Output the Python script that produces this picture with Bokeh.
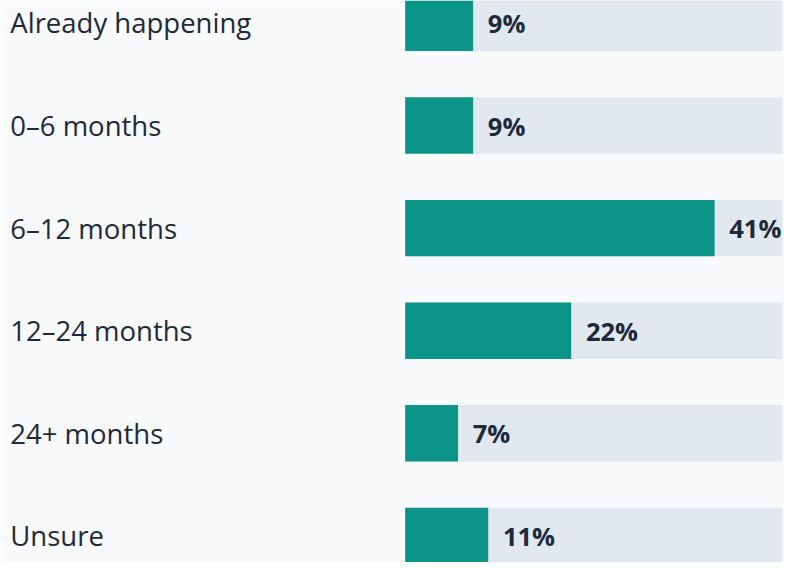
from bokeh.plotting import figure
from bokeh.models import ColumnDataSource, Range1d
from bokeh.core.properties import value
from bokeh.embed import file_html
from bokeh.resources import INLINE

categories = ["Already happening", "0–6 months", "6–12 months", "12–24 months", "24+ months", "Unsure"]
percent = [9, 9, 41, 22, 7, 11]
track_max = 50

labels = [f"{v}%" for v in percent]
idx = list(range(len(categories)))

W, H = 784, 562
track_left_px = 404.7
track_right_px = 782.0
px_per_pct = (track_right_px - track_left_px) / track_max
row_px = 102.6
first_row_px = 22.4

x0 = -track_left_px / px_per_pct
x1 = x0 + W / px_per_pct
y_top = -first_row_px / row_px
y_bot = y_top + H / row_px

src = ColumnDataSource(dict(
    y=idx, cat=categories, val=percent, lab=labels,
    track=[track_max] * len(idx),
    lab_x=[v + 14.7 / px_per_pct for v in percent],
    cat_x=[x0 + 9.8 / px_per_pct] * len(idx),
))

p = figure(width=W, height=H, x_range=Range1d(x0, x1), y_range=Range1d(y_bot, y_top),
           output_backend="svg", toolbar_location=None, min_border=0)
p.axis.visible = False
p.grid.visible = False
p.outline_line_color = None
p.background_fill_color = "#f8fafc"
p.border_fill_color = "#f8fafc"

h = 56.4 / row_px
p.hbar(y="y", left=0, right="track", height=h, source=src, color="#e2e8f0", line_color=None)
p.hbar(y="y", left=0, right="val", height=h, source=src, color="#0d9488", line_color=None)

p.text(x="cat_x", y="y", text="cat", source=src, text_font=value("Open Sans"),
       text_font_size="27.5px", text_color="#1e293b", text_baseline="middle", text_align="left")
p.text(x="lab_x", y="y", text="lab", source=src, text_font=value("Open Sans"),
       text_font_size="25.5px", text_font_style="bold", text_color="#1e293b",
       text_baseline="middle", text_align="left")

open("out.html", "w").write(file_html(p, INLINE))
